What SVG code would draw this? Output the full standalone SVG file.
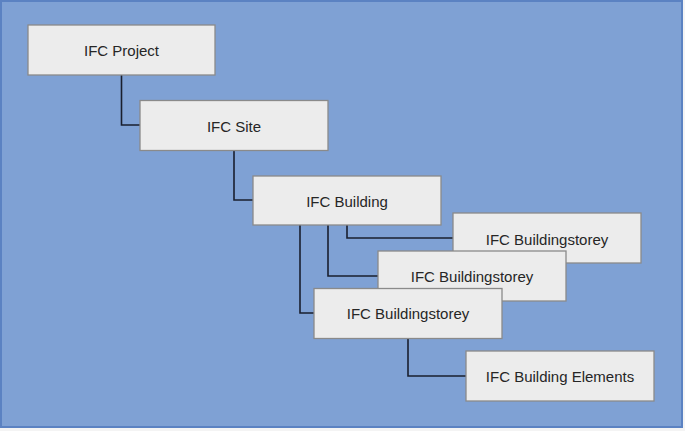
<svg xmlns="http://www.w3.org/2000/svg" width="685" height="431" viewBox="0 0 685 431">
<style>
.box{fill:#ececec;stroke:#8a8a8a;stroke-width:1.3}
.lbl{font-family:"Liberation Sans",Arial,sans-serif;font-size:15px;fill:#262626;text-anchor:middle;dominant-baseline:central}
.con{fill:none;stroke:#1a1f2e;stroke-width:1.6}
</style>
<rect x="0" y="0" width="685" height="431" fill="#f4f4f4"/>
<rect x="1" y="1" width="681" height="426" fill="#7fa1d4" stroke="#5b82c2" stroke-width="2"/>
<g id="connectors">
<path class="con" d="M121.5 75 V125 H140"/>
<path class="con" d="M234 150 V200 H253"/>
<path class="con" d="M347 225 V238 H453"/>
<path class="con" d="M328 225 V276 H378"/>
<path class="con" d="M300 225 V313 H314"/>
<path class="con" d="M408 338 V376 H466"/>
</g>
<g id="project"><rect class="box" x="28" y="25" width="187" height="50"/><text class="lbl" x="121.5" y="50">IFC Project</text></g>
<g id="site"><rect class="box" x="140" y="100.5" width="188" height="50"/><text class="lbl" x="234" y="126">IFC Site</text></g>
<g id="building"><rect class="box" x="253" y="176" width="188" height="49"/><text class="lbl" x="347" y="201">IFC Building</text></g>
<g id="storey1"><rect class="box" x="453" y="213" width="188" height="50"/><text class="lbl" x="547" y="239">IFC Buildingstorey</text></g>
<g id="storey2"><rect class="box" x="378" y="251" width="188" height="50"/><text class="lbl" x="472" y="276.5">IFC Buildingstorey</text></g>
<g id="storey3"><rect class="box" x="314" y="288.5" width="188" height="50"/><text class="lbl" x="408" y="313.5">IFC Buildingstorey</text></g>
<g id="elements"><rect class="box" x="466" y="351" width="188" height="50"/><text class="lbl" x="560" y="376.5">IFC Building Elements</text></g>
</svg>
